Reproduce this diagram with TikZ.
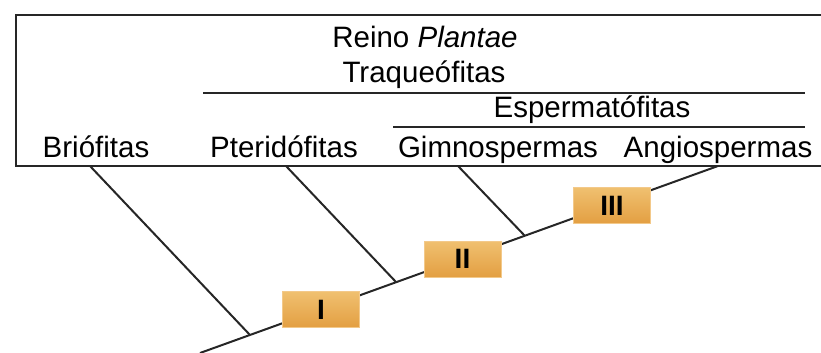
\documentclass[tikz,border=0pt]{standalone}
\usepackage{fontspec}
\setmainfont{Liberation Sans}
\definecolor{boxtop}{HTML}{F0C070}
\definecolor{boxbot}{HTML}{E39F42}
\definecolor{boxline}{HTML}{F3C98A}
\begin{document}
\begin{tikzpicture}[x=1pt,y=-1pt,
  lbl/.style={anchor=base,inner sep=0pt,font=\fontsize{29.5}{31}\selectfont},
  frame/.style={line width=2pt,black!85},
  branch/.style={line width=2pt,black!85},
  markbox/.style={draw=boxline,line width=1pt,top color=boxtop,bottom color=boxbot,
    minimum width=77pt,minimum height=36pt,inner sep=0pt,
    font=\fontsize{28}{30}\selectfont\bfseries}]
\useasboundingbox (0,0) rectangle (821,353);
% frame
\coordinate (tr) at (821,15.5);
\coordinate (tl) at (15.5,15.5);
\coordinate (bl) at (15.5,166);
\coordinate (br) at (821,166);
\draw[frame] (tr) -- (tl) -- (bl) -- (br);
% group labels
\node[lbl] (reino) at (425,48) {Reino \textit{Plantae}};
\node[lbl] (traq) at (424,82) {Traqueófitas};
\coordinate (tq1) at (203,93);
\coordinate (tq2) at (805,93);
\draw[frame] (tq1) -- (tq2);
\node[lbl] (esp) at (592,117) {Espermatófitas};
\coordinate (es1) at (393,127);
\coordinate (es2) at (805,127);
\draw[frame] (es1) -- (es2);
% taxa
\node[lbl] (brio) at (96,157) {Briófitas};
\node[lbl] (pter) at (284,157) {Pteridófitas};
\node[lbl] (gimn) at (498,157) {Gimnospermas};
\node[lbl] (angi) at (718,157) {Angiospermas};
% tree
\coordinate (root) at (200,353);
\coordinate (top) at (718,166);
\coordinate (j1) at (250,335);
\coordinate (j2) at (396,282);
\coordinate (j3) at (525,236);
\coordinate (b1) at (90,166);
\coordinate (b2) at (286,166);
\coordinate (b3) at (458,166);
\draw[branch] (root) -- (top);
\draw[branch] (b1) -- (j1);
\draw[branch] (b2) -- (j2);
\draw[branch] (b3) -- (j3);
% marks
\node[markbox] (m1) at (321,309.5) {I};
\node[markbox] (m2) at (462.5,259) {II};
\node[markbox] (m3) at (612,205.5) {III};
\end{tikzpicture}
\end{document}
